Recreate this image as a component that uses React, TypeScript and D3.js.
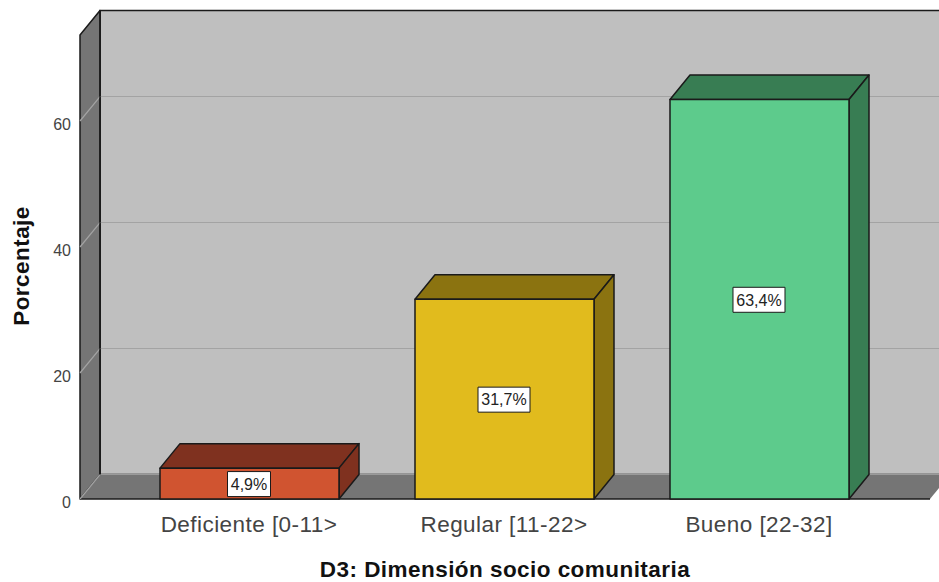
import React from "react";
import * as d3 from "d3";

const categories = ["Deficiente [0-11>", "Regular [11-22>", "Bueno [22-32]"];
const percentages = [4.9, 31.7, 63.4];
const valueLabels = ["4,9%", "31,7%", "63,4%"];
const frontColors = ["#d05430", "#e1bb1d", "#5dcb8c"];
const sideColors = ["#7f311f", "#8b7310", "#387d53"];
const yTicks = [0, 20, 40, 60];
const yLabel = "Porcentaje";
const xLabel = "D3: Dimensión socio comunitaria";

const W = 939, H = 582;
const DX = 20, DY = -24.5;
const FONT = "'Liberation Sans', Arial, sans-serif";
const y = d3.scaleLinear().domain([0, 73.65]).range([499, 35]);
const x = d3.scaleBand<string>().domain(categories).range([160, 849]).paddingInner(0.298).paddingOuter(0);
const poly = (pts: [number, number][]) => pts.map(p => p.join(",")).join(" ");
const INK = "#1a1a1a";

export default function App() {
  const y0 = y(0), yT = y(y.domain()[1]);
  const xL = 80, xR = 930;
  return (
    <svg width={W} height={H} viewBox={`0 0 ${W} ${H}`} style={{ position: "absolute", left: 0, top: 0, background: "#fff" }} fontFamily={FONT}>
      {/* back wall */}
      <rect x={xL + DX} y={yT + DY} width={xR - xL} height={y0 - yT} fill="#bfbfbf" stroke={INK} strokeWidth={1.5} />
      {/* left wall */}
      <polygon points={poly([[xL, yT], [xL + DX, yT + DY], [xL + DX, y0 + DY], [xL, y0]])} fill="#757575" stroke={INK} strokeWidth={1.5} strokeLinejoin="round" />
      {/* floor */}
      <polygon points={poly([[xL, y0], [xL + DX, y0 + DY], [xR + DX, y0 + DY], [xR, y0]])} fill="#757575" />
      <line x1={xL + DX} x2={xR + DX} y1={y0 + DY} y2={y0 + DY} stroke="#9a9a9a" strokeWidth={1.2} />
      <line x1={xL} x2={xR} y1={y0} y2={y0} stroke={INK} strokeWidth={1.5} />
      {/* gridlines */}
      {yTicks.map(t => (
        <polyline key={t} points={poly(t === 0
          ? [[xL, y(t)], [xL + DX, y(t) + DY]]
          : [[xL, y(t)], [xL + DX, y(t) + DY], [xR + DX, y(t) + DY]])}
          fill="none" stroke="#a3a3a3" strokeWidth={1.2} />
      ))}
      <line x1={xL + DX} x2={xL + DX} y1={yT + DY} y2={y0 + DY} stroke={INK} strokeWidth={1.5} />
      {/* y tick labels */}
      {yTicks.map(t => (
        <text key={t} x={71} y={y(t) + 3} dy="0.36em" fontSize={16} fill="#444" textAnchor="end">{t}</text>
      ))}
      {/* bars */}
      {categories.map((c, i) => {
        const l = x(c)!, r = l + x.bandwidth(), t = y(percentages[i]), cx = (l + r) / 2 - 0.5, cy = (t + y0) / 2 + 0.5;
        return (
          <g key={c} stroke={INK} strokeWidth={1.5} strokeLinejoin="round">
            <polygon points={poly([[l, t], [l + DX, t + DY], [r + DX, t + DY], [r, t]])} fill={sideColors[i]} />
            <polygon points={poly([[r, t], [r + DX, t + DY], [r + DX, y0 + DY], [r, y0]])} fill={sideColors[i]} />
            <rect x={l} y={t} width={r - l} height={y0 - t} fill={frontColors[i]} />
            <rect x={cx - (i === 0 ? 21.5 : 26)} y={cy - 12.5} width={i === 0 ? 43 : 52} height={25} fill="#fff" strokeWidth={1} />
            <text x={cx} y={cy} dy="0.36em" textAnchor="middle" fontSize={16} fill="#222" stroke="none">{valueLabels[i]}</text>
            <text x={cx} y={532} textAnchor="middle" fontSize={22.5} letterSpacing={0.45} fill="#444" stroke="none">{c}</text>
          </g>
        );
      })}
      {/* axis titles */}
      <text x={505} y={577} textAnchor="middle" fontSize={22.5} letterSpacing={0.45} fontWeight="bold" fill="#111">{xLabel}</text>
      <text transform="translate(29,266) rotate(-90)" textAnchor="middle" fontSize={22.5} letterSpacing={0.45} fontWeight="bold" fill="#111">{yLabel}</text>
    </svg>
  );
}
